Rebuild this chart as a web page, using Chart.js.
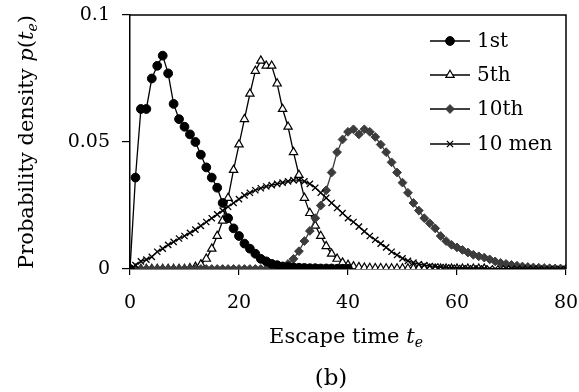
<!DOCTYPE html>
<html>
<head>
<meta charset="utf-8">
<script src="https://cdn.jsdelivr.net/npm/chart.js@4.4.0/dist/chart.umd.min.js"></script>
<style>
  html, body { margin: 0; padding: 0; background: #fff; }
  canvas { display: block; }
</style>
</head>
<body>
<canvas id="escape-chart" width="579" height="392"></canvas>
<script>
// escape time t_e, one point per time step
var times = [0,1,2,3,4,5,6,7,8,9,10,11,12,13,14,15,16,17,18,19,20,
  21,22,23,24,25,26,27,28,29,30,31,32,33,34,35,36,37,38,39,40,
  41,42,43,44,45,46,47,48,49,50,51,52,53,54,55,56,57,58,59,60,
  61,62,63,64,65,66,67,68,69,70,71,72,73,74,75,76,77,78,79,80];

// 1st runs to t = 40, 5th to t = 65
var first = [0,0.036,0.063,0.063,0.075,0.080,0.084,0.077,0.065,0.059,0.056,
  0.053,0.050,0.045,0.040,0.036,0.032,0.026,0.020,0.016,0.013,
  0.010,0.008,0.006,0.004,0.003,0.002,0.0015,0.001,0.0008,0.0006,
  0.0005,0.0004,0.0003,0.0003,0.0002,0.0002,0.0002,0.0001,0.0001,0.0001];

var fifth = [0,0,0,0,0,0,0,0,0,0,0,
  0.0003,0.0008,0.0018,0.004,0.008,0.013,0.019,0.028,0.039,0.049,
  0.059,0.069,0.078,0.082,0.080,0.080,0.073,0.063,0.056,0.046,
  0.037,0.028,0.022,0.017,0.013,0.009,0.006,0.004,0.0025,0.0016,
  0.001,0.0007,0.0005,0.0004,0.0003,0.0003,0.0002,0.0002,0.0002,0.0002,
  0.0002,0.0002,0.0002,0.0001,0.0001,0.0001,0.0001,0.0001,0.0001,0.0001,
  0.0001,0.0001,0.0001,0.0001,0.0001];

var tenth = [0,0,0,0,0,0,0,0,0,0,0,0,0,0,0,0,0,0,0,0,0,0,0,0,0,0,0,
  0.0003,0.001,0.002,0.004,
  0.007,0.011,0.015,0.020,0.025,0.031,0.038,0.046,0.051,0.054,
  0.055,0.053,0.055,0.054,0.052,0.049,0.046,0.042,0.038,0.034,
  0.030,0.026,0.023,0.020,0.018,0.016,0.013,0.011,0.0095,0.0085,
  0.0075,0.0065,0.0056,0.005,0.0045,0.0038,0.003,0.0024,0.002,0.0016,
  0.0013,0.001,0.0008,0.0006,0.0005,0.0004,0.0003,0.0002,0.0002,0.0001];

var tenMen = [0,0.0015,0.003,0.0037,0.0048,0.0068,0.008,0.0095,0.0107,0.012,0.013,
  0.0142,0.0155,0.017,0.0185,0.020,0.0215,0.023,0.0245,0.026,0.0275,
  0.029,0.030,0.031,0.0318,0.0325,0.033,0.0335,0.034,0.0345,0.035,
  0.035,0.0345,0.0335,0.032,0.030,0.028,0.026,0.024,0.022,0.020,
  0.0185,0.0167,0.0148,0.013,0.0115,0.010,0.0085,0.0068,0.0055,0.0042,
  0.0032,0.0025,0.0019,0.0015,0.0012,0.001,0.0008,0.0006,0.0005,0.0004,
  0.0003,0.0003,0.0002,0.0002,0.0002,0.0002,0.0001,0.0001,0.0001,0.0001,
  0.0001,0.0001,0.0001,0.0001,0.0001,0,0,0,0,0];

var seriesNames = ["1st", "5th", "10th", "10 men"];
var xTicks = [0, 20, 40, 60, 80];
var yTicks = [0, 0.05, 0.1];

const serif = "'DejaVu Serif', 'Liberation Serif', serif";

function pts(vals) {
  return vals.map(function (v, i) { return { x: times[i], y: v }; });
}

// frame, legend, axis titles
const extras = {
  id: "extras",
  afterDraw(chart) {
    const ctx = chart.ctx;
    const a = chart.chartArea;
    ctx.save();
    ctx.strokeStyle = "#000";
    ctx.lineWidth = 1.5;
    ctx.beginPath();
    ctx.moveTo(a.left, a.top);
    ctx.lineTo(a.right, a.top);
    ctx.lineTo(a.right, a.bottom);
    ctx.stroke();

    // legend
    const rowY = [41, 75, 109, 144];
    chart.data.datasets.forEach(function (ds, i) {
      const y = rowY[i];
      ctx.strokeStyle = "#000";
      ctx.lineWidth = 1.3;
      ctx.beginPath();
      ctx.moveTo(430, y);
      ctx.lineTo(470, y);
      ctx.stroke();
      ctx.fillStyle = ds.pointBackgroundColor;
      ctx.strokeStyle = ds.pointBorderColor;
      ctx.lineWidth = ds.pointBorderWidth;
      Chart.helpers.drawPoint(ctx, {
        pointStyle: ds.pointStyle, radius: ds.pointRadius,
        borderWidth: ds.pointBorderWidth, rotation: 0
      }, 450, y);
      ctx.fillStyle = "#000";
      ctx.font = "20px " + serif;
      ctx.textAlign = "left";
      ctx.textBaseline = "middle";
      ctx.fillText(seriesNames[i], 477, y + 1);
    });

    // x title: Escape time t_e
    ctx.fillStyle = "#000";
    ctx.textBaseline = "alphabetic";
    ctx.textAlign = "left";
    const partsX = [
      ["Escape time ", "21px " + serif, 0],
      ["t", "italic 21px " + serif, 0],
      ["e", "italic 14px " + serif, 4]
    ];
    drawParts(ctx, partsX, 346, 343);

    ctx.font = "23px " + serif;
    ctx.textAlign = "center";
    ctx.fillText("(b)", 331, 385);

    // y title rotated
    ctx.translate(33, (a.top + a.bottom) / 2);
    ctx.rotate(-Math.PI / 2);
    ctx.textAlign = "left";
    const partsY = [
      ["Probability density ", "21px " + serif, 0],
      ["p", "italic 21px " + serif, 0],
      ["(", "21px " + serif, 0],
      ["t", "italic 21px " + serif, 0],
      ["e", "italic 14px " + serif, 4],
      [")", "21px " + serif, 0]
    ];
    drawParts(ctx, partsY, 0, 0);
    ctx.restore();
  }
};

function drawParts(ctx, parts, cx, baseY) {
  let total = 0;
  parts.forEach(function (p) { ctx.font = p[1]; total += ctx.measureText(p[0]).width; });
  let x = cx - total / 2;
  parts.forEach(function (p) {
    ctx.font = p[1];
    ctx.fillText(p[0], x, baseY + p[2]);
    x += ctx.measureText(p[0]).width;
  });
}

function noPad(s) {
  s.paddingLeft = 0; s.paddingRight = 0; s.paddingTop = 0; s.paddingBottom = 0;
}

new Chart(document.getElementById("escape-chart"), {
  type: "line",
  data: {
    datasets: [
      {
        label: seriesNames[0],
        data: pts(first),
        order: 0,
        borderColor: "#000",
        borderWidth: 1.3,
        pointStyle: "circle",
        pointRadius: 4.4,
        pointBackgroundColor: "#000",
        pointBorderColor: "#000",
        pointBorderWidth: 1,
        fill: false
      },{
        label: seriesNames[1],
        data: pts(fifth),
        order: 3,
        borderColor: "#000",
        borderWidth: 1.3,
        pointStyle: "triangle",
        pointRadius: 4.8,
        pointBackgroundColor: "#fff",
        pointBorderColor: "#000",
        pointBorderWidth: 1.2,
        fill: false
      },{
        label: seriesNames[2],
        data: pts(tenth),
        order: 2,
        borderColor: "#3c3c3c",
        borderWidth: 1.3,
        pointStyle: "rectRot",
        pointRadius: 4.4,
        pointBackgroundColor: "#3c3c3c",
        pointBorderColor: "#3c3c3c",
        pointBorderWidth: 1,
        fill: false
      },{
        label: seriesNames[3],
        data: pts(tenMen),
        order: 1,
        borderColor: "#000",
        borderWidth: 1.3,
        pointStyle: "crossRot",
        pointRadius: 4.4,
        pointBackgroundColor: "#000",
        pointBorderColor: "#000",
        pointBorderWidth: 1.3,
        fill: false
      }
    ]
  },
  options: {
    responsive: false,
    animation: false,
    layout: { padding: { top: 15, right: 13, left: 0, bottom: 0 } },
    plugins: { legend: { display: false }, tooltip: { enabled: false }, title: { display: false } },
    scales: {
      x: {
        type: "linear",
        min: 0,
        max: 80,
        afterFit: function (s) { s.height = 123; noPad(s); },
        afterBuildTicks: function (s) { s.ticks = xTicks.map(function (v) { return { value: v }; }); },
        grid: { display: true, drawOnChartArea: false, drawTicks: true, tickLength: 6, color: "#000", lineWidth: 1.2 },
        border: { display: true, color: "#000", width: 1.5 },
        ticks: { color: "#000", padding: 17, maxRotation: 0, font: { family: serif, size: 19 } }
      },
      y: {
        min: 0,
        max: 0.1,
        afterFit: function (s) { s.width = 130; noPad(s); },
        afterBuildTicks: function (s) { s.ticks = yTicks.map(function (v) { return { value: v }; }); },
        grid: { display: true, drawOnChartArea: false, drawTicks: true, tickLength: 8, color: "#000", lineWidth: 1.2 },
        border: { display: true, color: "#000", width: 1.5 },
        ticks: {
          color: "#000", padding: 12, font: { family: serif, size: 19 },
          callback: function (v) { return String(v); }
        }
      }
    }
  },
  plugins: [extras]
});
</script>
</body>
</html>
